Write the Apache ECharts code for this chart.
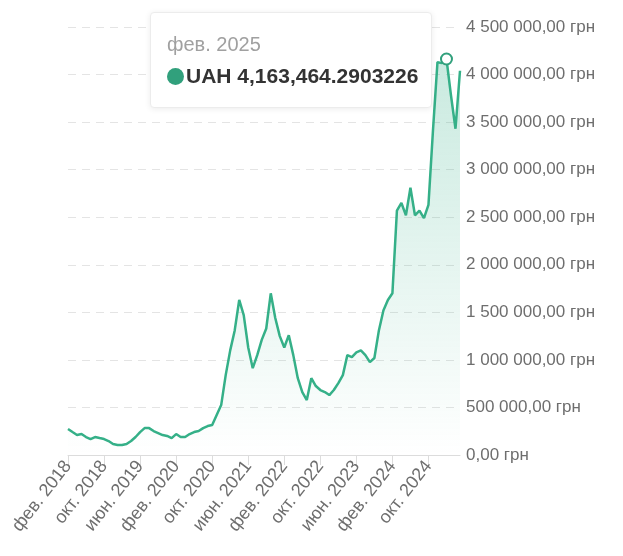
<!DOCTYPE html>
<html>
<head>
<meta charset="utf-8">
<script src="https://cdn.jsdelivr.net/npm/echarts@6/dist/echarts.min.js"></script>
<style>
    html, body { margin: 0; padding: 0; background: #fff; }
    #chart { width: 623px; height: 556px; }
</style>
</head>
<body>
<div id="chart"></div>
<script>
// подписи месяцев
const monthNames = ['янв.', 'фев.', 'мар.', 'апр.', 'май', 'июн.', 'июл.', 'авг.', 'сен.', 'окт.', 'нояб.', 'дек.'];
const startYear = 2018;
const startMonth = 1; // фев.

// значения по месяцам, грн
const values = [
    273000, 241000, 210000, 220000, 189000, 168000, 189000, 178000,
    168000, 147000, 115000, 105000, 105000, 115000, 147000, 189000,
    241000, 283000, 283000, 252000, 231000, 210000, 200000, 178000,
    220000, 189000, 189000, 220000, 241000, 252000, 283000, 304000,
    315000, 420000, 525000, 840000, 1100000, 1310000, 1630000, 1470000,
    1130000, 913000, 1050000, 1210000, 1330000, 1700000, 1440000, 1250000,
    1130000, 1260000, 1050000, 808000, 662000, 578000, 808000, 725000,
    683000, 662000, 630000, 683000, 756000, 840000, 1050000, 1030000,
    1080000, 1100000, 1050000, 977000, 1020000, 1310000, 1520000, 1630000,
    1700000, 2570000, 2650000, 2520000, 2810000, 2520000, 2570000, 2490000,
    2630000, 3410000, 4130000, 4120000, 4163464.2903226, 3780000, 3430000, 4040000
];
const yTicks = [0, 500000, 1000000, 1500000, 2000000, 2500000, 3000000, 3500000, 4000000, 4500000];
const seriesName = 'UAH';
const activeIndex = 84;

const categories = values.map((v, i) => {
    const m = (startMonth + i) % 12;
    const y = startYear + Math.floor((startMonth + i) / 12);
    return monthNames[m] + ' ' + y;
});

function fmtGrn(v) {
    const s = Math.round(v).toString().replace(/\B(?=(\d{3})+(?!\d))/g, ' ');
    return s + ',00 грн';
}

const lineColor = '#31a07c';
const font = 'Liberation Sans, Arial, sans-serif';
const myChart = echarts.init(document.getElementById('chart'));

const option = {
    animation: false,
    textStyle: { fontFamily: font },
    grid: {
        left: 68,
        right: 163,
        top: 27,
        bottom: 101
    },
    tooltip: {
        trigger: 'axis',
        alwaysShowContent: true,
        axisPointer: { type: 'none' },
        position: [150, 12],
        backgroundColor: '#fff',
        borderColor: '#ececec',
        borderWidth: 1,
        padding: [18, 13, 18, 16],
        extraCssText: 'box-shadow: 0 1px 6px rgba(0,0,0,0.08); border-radius: 4px;',
        formatter: function (params) {
            const p = params[0];
            return '<div style="color:#a0a0a0;font-size:20px;line-height:26px;font-family:' + font + ';">' + p.name + '</div>' +
                '<div style="margin-top:6px;font-size:21px;line-height:26px;font-weight:bold;color:#333;font-family:' + font + ';">' +
                '<span style="display:inline-block;width:17px;height:17px;border-radius:9px;background:' + lineColor + ';vertical-align:-2px;margin-right:2px;"></span>' +
                p.seriesName + ' ' + p.value.toLocaleString('en-US', { maximumFractionDigits: 7 }) + '</div>';
        }
    },
    xAxis: {
        type: 'category',
        boundaryGap: false,
        data: categories,
        axisLine: { lineStyle: { color: '#dcdcdc' } },
        axisTick: { interval: 7, length: 10, lineStyle: { color: '#dcdcdc' } },
        axisLabel: {
            interval: 7,
            rotate: 52,
            color: '#6e6e6e',
            fontSize: 18,
            margin: 8
        }
    },
    yAxis: {
        type: 'value',
        position: 'right',
        min: 0,
        max: 4500000,
        interval: 500000,
        axisLine: { show: false },
        axisTick: { show: false },
        splitLine: { lineStyle: { color: '#e4e4e4', type: [8, 6] } },
        axisLabel: {
            color: '#6e6e6e',
            fontSize: 17,
            margin: 6,
            formatter: function (v) { return yTicks.indexOf(v) >= 0 ? fmtGrn(v) : ''; }
        }
    },
    series: [
        {
            name: seriesName,
            type: 'line',
            data: values,
            showSymbol: false,
            symbol: 'emptyCircle',
            symbolSize: 11,
            lineStyle: { color: lineColor, width: 2.5 },
            itemStyle: { color: lineColor, borderColor: lineColor, borderWidth: 3 },
            emphasis: { scale: false, lineStyle: { width: 2.5 } },
            areaStyle: {
                color: new echarts.graphic.LinearGradient(0, 0, 0, 1, [
                    { offset: 0, color: 'rgba(49,160,124,0.38)' },
                    { offset: 1, color: 'rgba(49,160,124,0)' }
                ])
            }
        }
    ]
};

myChart.setOption(option);
myChart.dispatchAction({ type: 'showTip', seriesIndex: 0, dataIndex: activeIndex });
myChart.dispatchAction({ type: 'highlight', seriesIndex: 0, dataIndex: activeIndex });
</script>
</body>
</html>
